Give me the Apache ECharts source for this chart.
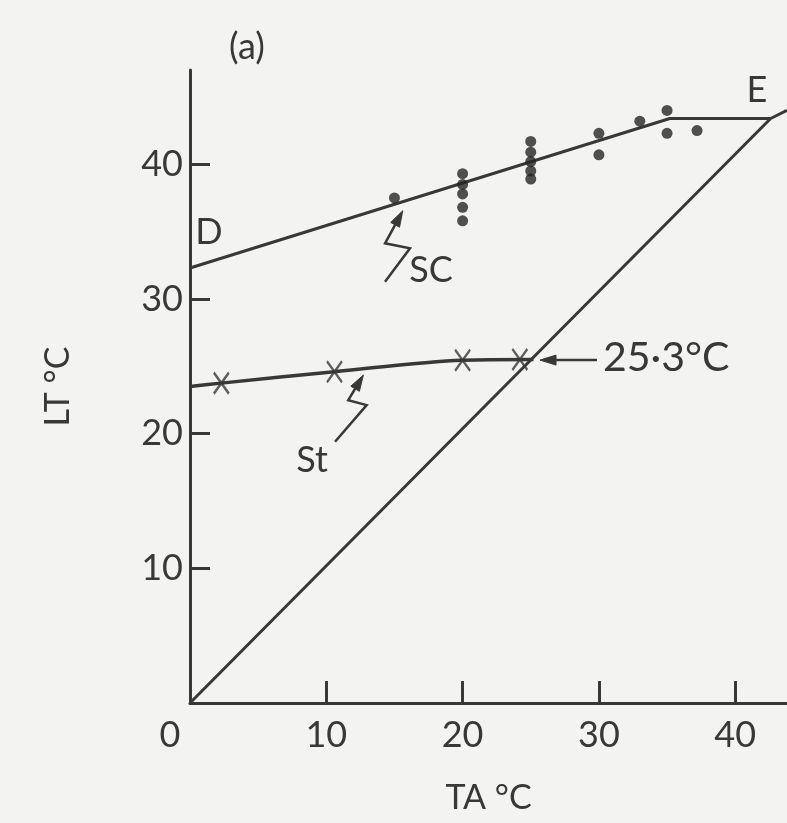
<!DOCTYPE html>
<html><head><meta charset="utf-8">
<script src="https://cdn.jsdelivr.net/npm/echarts@6/dist/echarts.min.js"></script>
<style>html,body{margin:0;padding:0;background:#f3f3f1}#c{width:787px;height:823px}</style>
</head><body><div id="c"></div>
<script>
// ---- data ----
const xTickValues = [0, 10, 20, 30, 40];
const yTickValues = [0, 10, 20, 30, 40];
// SC observations (dots)
const scX = [15, 20, 20, 20, 20, 20, 25, 25, 25, 25, 25, 30, 30, 33, 35, 35, 37.2];
const scY = [37.5, 39.3, 38.5, 37.8, 36.8, 35.8, 41.7, 40.9, 40.2, 39.5, 38.9, 42.3, 40.7, 43.2, 44.0, 42.3, 42.5];
// SC line D -> E
const scLineX = [0, 35.2, 42.6];
const scLineY = [32.3, 43.4, 43.4];
// diagonal LT = TA line to E (with small tail)
const diagX = [0, 42.6, 43.8];
const diagY = [0, 43.4, 44.0];
// St observations (crosses)
const stX = [2.3, 10.6, 20, 24.2];
const stY = [23.75, 24.6, 25.45, 25.5];
// St curve
const stCurveX = [0, 2.3, 10.6, 20, 25.2];
const stCurveY = [23.5, 23.75, 24.6, 25.45, 25.5];

const ink = '#383838';
const FONT = 'Lato';
const FW = 400;
const zip = (a, b) => a.map((v, i) => [v, b[i]]);

const chart = echarts.init(document.getElementById('c'), null, {renderer: 'canvas'});
const option = {
  backgroundColor: '#f3f3f1',
  animation: false,
  grid: {left: 190, right: 0, top: 70, bottom: 120, containLabel: false, outerBoundsMode: 'none'},
  xAxis: {
    type: 'value', min: 0, max: 43.8, interval: 10,
    name: 'TA °C', nameLocation: 'middle', nameGap: 78,
    nameTextStyle: {color: ink, fontSize: 34, fontFamily: FONT, fontWeight: FW},
    axisLine: {show: true, onZero: false, lineStyle: {color: ink, width: 3}},
    axisTick: {show: true, inside: true, length: 22, lineStyle: {color: ink, width: 3}},
    splitLine: {show: false},
    axisLabel: {
      color: ink, fontSize: 36, fontFamily: FONT, fontWeight: FW, margin: 14,
      showMaxLabel: false,
      formatter: v => xTickValues.includes(v) ? (v === 0 ? '{z|0}' : String(v)) : '',
      rich: {z: {padding: [0, 40, 0, 0], fontSize: 36, fontFamily: FONT, fontWeight: FW, color: ink}}
    }
  },
  yAxis: {
    type: 'value', min: 0, max: 47, interval: 10,
    name: 'LT °C', nameLocation: 'middle', nameGap: 115, nameRotate: 90,
    nameTextStyle: {color: ink, fontSize: 34, fontFamily: FONT, fontWeight: FW},
    axisLine: {show: true, onZero: false, lineStyle: {color: ink, width: 3}},
    axisTick: {show: true, inside: true, length: 20, lineStyle: {color: ink, width: 3}},
    splitLine: {show: false},
    axisLabel: {
      color: ink, fontSize: 36, fontFamily: FONT, fontWeight: FW, margin: 7,
      showMinLabel: false, showMaxLabel: false,
      formatter: v => (yTickValues.includes(v) && v !== 0) ? String(v) : ''
    }
  },
  series: [
    {type: 'line', data: zip(diagX, diagY), symbol: 'none', lineStyle: {color: ink, width: 3}, z: 2},
    {type: 'line', data: zip(scLineX, scLineY), symbol: 'none', lineStyle: {color: ink, width: 3}, z: 2},
    {type: 'line', data: zip(stCurveX, stCurveY), symbol: 'none', smooth: 0.3, lineStyle: {color: ink, width: 3.5}, z: 2},
    {type: 'scatter', data: zip(scX, scY), symbol: 'circle', symbolSize: 11,
     itemStyle: {color: '#262626'}, z: 3},
    {type: 'scatter', data: zip(stX, stY), symbol: 'path://M0,0 L16,22 M16,0 L0,22', symbolSize: [15, 21],
     itemStyle: {color: 'none', borderColor: ink, borderWidth: 2.5}, z: 3}
  ]
};
chart.setOption(option);

// ---- annotations (placed through the axes' scales) ----
const P = p => chart.convertToPixel({gridIndex: 0}, p);
const texts = [
  {t: '(a)', at: [4.18, 48.7], size: 36, align: 'center'},
  {t: 'D', at: [1.39, 34.97], size: 36, align: 'center'},
  {t: 'E', at: [41.6, 45.5], size: 36, align: 'center'},
  {t: 'SC', at: [17.68, 32.15], size: 36, align: 'center'},
  {t: 'St', at: [8.95, 18.04], size: 36, align: 'center'},
  {t: '25·3°C', at: [30.3, 25.6], size: 41, align: 'left'}
];
const arrows = [
  [[14.31, 31.28], [16.14, 33.76], [14.31, 34.13], [15.61, 36.55]],
  [[10.64, 19.40], [12.96, 22.12], [11.61, 22.49], [12.72, 24.35]],
  [[29.86, 25.46], [25.68, 25.46]]
];
const graphics = [];
texts.forEach(o => {
  const p = P(o.at);
  graphics.push({type: 'text', x: p[0], y: p[1], z: 10,
    style: {text: o.t, fill: ink, fontSize: o.size, fontFamily: FONT, fontWeight: FW,
            align: o.align, verticalAlign: 'middle'}});
});
arrows.forEach(pts => {
  const px = pts.map(P);
  const n = px.length;
  const tip = px[n - 1], prev = px[n - 2];
  const dx = tip[0] - prev[0], dy = tip[1] - prev[1];
  const L = Math.hypot(dx, dy), ux = dx / L, uy = dy / L;
  const hl = 16, hw = 5;
  const base = [tip[0] - ux * hl, tip[1] - uy * hl];
  const line = px.slice(0, n - 1).concat([base]);
  graphics.push({type: 'polyline', z: 10, shape: {points: line},
    style: {stroke: ink, lineWidth: 2.5, fill: null}});
  graphics.push({type: 'polygon', z: 10, shape: {points: [
    tip, [base[0] - uy * hw, base[1] + ux * hw], [base[0] + uy * hw, base[1] - ux * hw]]},
    style: {fill: ink, stroke: ink, lineWidth: 1}});
});
chart.setOption({graphic: graphics});
</script>
</body></html>
